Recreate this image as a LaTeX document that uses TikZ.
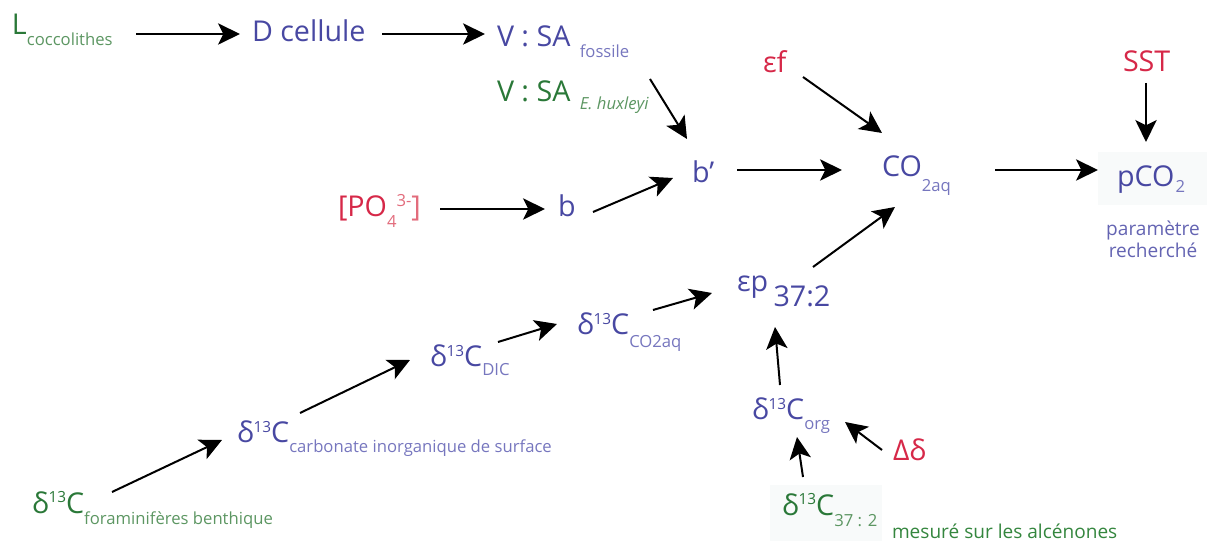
\documentclass[tikz,border=0pt]{standalone}
\usepackage{fontspec}
\setmainfont{Open Sans}
\usetikzlibrary{arrows.meta}
\definecolor{blu}{RGB}{72,72,162}
\definecolor{blul}{RGB}{118,118,190}
\definecolor{grn}{RGB}{42,120,56}
\definecolor{grnl}{RGB}{92,150,98}
\definecolor{rd}{RGB}{214,40,72}
\definecolor{rdl}{RGB}{226,108,124}
\definecolor{ann}{RGB}{100,100,178}
\definecolor{annG}{RGB}{52,134,62}
\definecolor{bgg}{RGB}{248,250,250}
\newcommand\mainsz{\fontsize{21.5}{25}\selectfont}
\newcommand\subsz{\fontsize{12.5}{15}\selectfont}
\newcommand\supsz{\fontsize{11.5}{13}\selectfont}
\newcommand\annsz{\fontsize{14.3}{16.5}\selectfont}
\newcommand\lo[2]{\raisebox{-#1}{#2}}
\newcommand\dtc[4]{{\color{#1}\mainsz δ\raisebox{8pt}{\supsz 13}C}\raisebox{-#3}{\color{#2}\subsz #4}}
\newcommand\conn[4]{\draw[arr] ([shift={#2}]#1.base west) -- ([shift={#4}]#3.base west);}
\begin{document}
\begin{tikzpicture}[x=0.75pt,y=-0.75pt,
  lbl/.style={inner sep=0pt,outer sep=0pt,anchor=base west},
  arr/.style={-{Stealth[length=16.5pt,width=16pt,inset=4pt]},line width=1.5pt,black}]
\useasboundingbox (0,0) rectangle (1207,541);
\fill[bgg] (1098,152) rectangle (1207,205);
\fill[bgg] (770,485) rectangle (882,541);
% top row
\node[lbl] (Lc) at (12,35) {{\color{grn}\mainsz L}\lo{8.25pt}{\color{grnl}\subsz coccolithes}};
\node[lbl] (Dc) at (252,42) {\color{blu}\mainsz D cellule};
\node[lbl] (Vf) at (497,47) {{\color{blu}\mainsz V : SA}\hspace{7pt}\lo{8.25pt}{\color{blul}\subsz fossile}};
\node[lbl] (Vh) at (497,102) {{\color{grn}\mainsz V : SA}\hspace{7pt}\lo{6pt}{\color{grnl}\subsz\itshape E. huxleyi}};
\node[lbl] (ef) at (763,73) {\color{rd}\mainsz εf};
\node[lbl] (SST) at (1123,72) {\color{rd}\mainsz SST};
% middle
\node[lbl] (PO) at (338,217) {{\color{rd}\mainsz [PO}\lo{8.25pt}{\color{rdl}\subsz 4}\raisebox{7.5pt}{\color{rdl}\subsz 3-}{\color{rdl}\mainsz ]}};
\node[lbl] (b) at (558,217) {\color{blu}\mainsz b};
\node[lbl] (bp) at (692,183) {\color{blu}\mainsz b’};
\node[lbl] (CO) at (882,177) {{\color{blu}\mainsz CO}\lo{11.25pt}{\color{blul}\subsz 2aq}};
\node[lbl] (pCO) at (1117,187) {{\color{blu}\mainsz pCO}\hspace{1pt}\lo{4.5pt}{\color{blul}\subsz 2}};
\node[inner sep=0pt,anchor=north,align=center,font=\annsz,text=ann] (prm) at (1153,221) {paramètre\\recherché};
% lower chain
\node[lbl] (dF) at (32,513) {\dtc{grn}{grnl}{8.25pt}{foraminifères benthique}};
\node[lbl] (dCarb) at (237,443) {\dtc{blu}{blul}{7.5pt}{carbonate inorganique de surface}};
\node[lbl] (dDIC) at (430,367) {\dtc{blu}{blul}{6.75pt}{DIC}};
\node[lbl] (dCO2) at (577,335) {\dtc{blu}{blul}{9.75pt}{CO2aq}};
\node[lbl] (ep) at (737,292) {\color{blu}\mainsz εp\hspace{4pt}\lo{11.25pt}{37:2}};
\node[lbl] (dorg) at (752,420) {\dtc{blu}{blul}{7.5pt}{org}};
\node[lbl] (Dd) at (893,460) {\color{rd}\mainsz Δδ};
\node[lbl] (d37) at (782,515) {\dtc{grn}{grnl}{9pt}{37 : 2}};
\node[lbl] (mes) at (892,538) {\color{annG}\annsz mesuré sur les alcénones};
% connectors
\conn{Lc}{(124,-1)}{Dc}{(-12,-8)}
\conn{Dc}{(130,-8)}{Vf}{(-12,-13)}
\conn{Vh}{(153,-23)}{bp}{(-5,-44)}
\conn{PO}{(102,-8)}{b}{(-13,-8)}
\conn{b}{(35,-5)}{bp}{(-19,-5)}
\conn{bp}{(45,-13)}{CO}{(-40,-7)}
\conn{ef}{(40,4)}{CO}{(0,-44)}
\conn{CO}{(113,-7)}{pCO}{(-19,-17)}
\conn{SST}{(23,11)}{pCO}{(29,-45)}
\conn{ep}{(76,-25)}{CO}{(13,30)}
\conn{dF}{(80,-21)}{dCarb}{(-15,-3)}
\conn{dCarb}{(63,-30)}{dDIC}{(-20,-7)}
\conn{dDIC}{(68,-25)}{dCO2}{(-20,-11)}
\conn{dCO2}{(76,-25)}{ep}{(-25,1)}
\conn{dorg}{(28,-35)}{ep}{(38,35)}
\conn{Dd}{(-11,-10)}{dorg}{(93,2)}
\conn{d37}{(21,-38)}{dorg}{(45,17)}
\end{tikzpicture}
\end{document}
